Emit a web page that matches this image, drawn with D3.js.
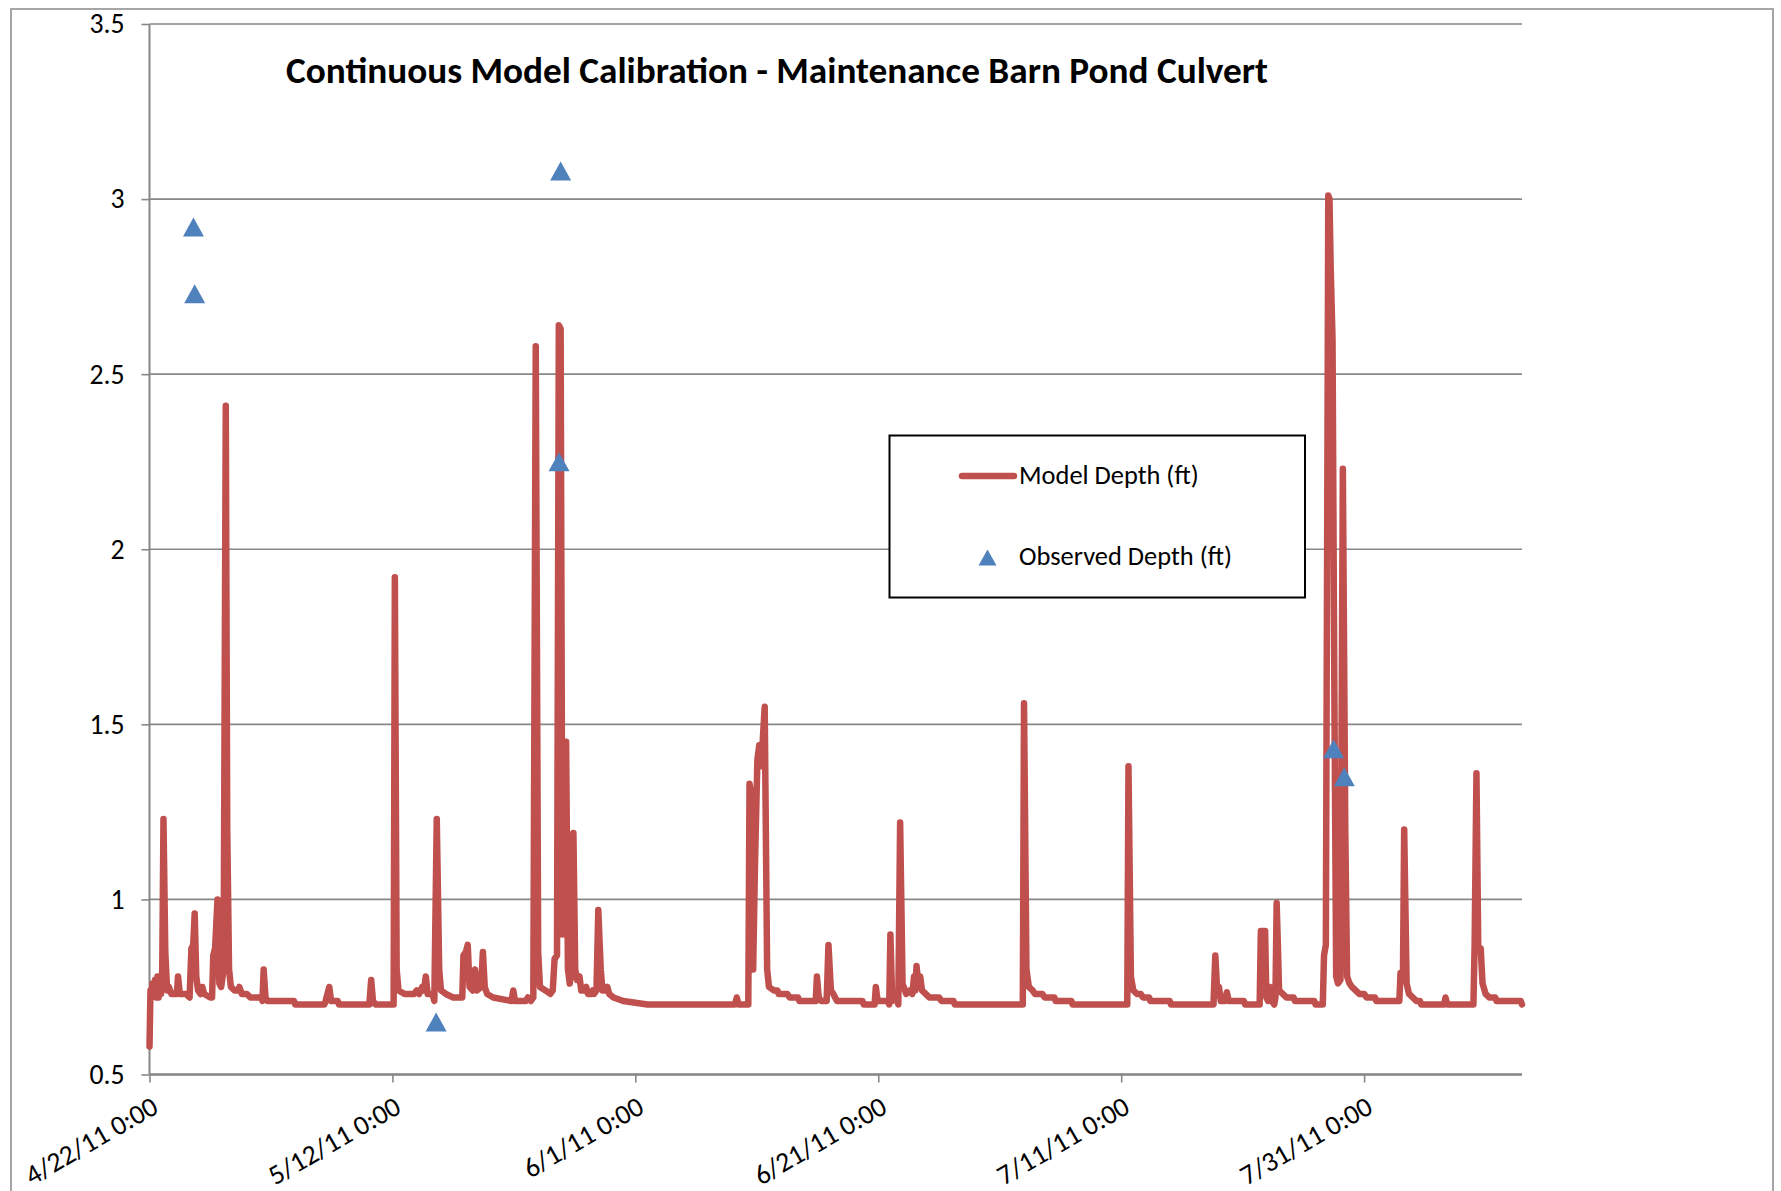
<!DOCTYPE html>
<html>
<head>
<meta charset="utf-8">
<script src="https://cdn.jsdelivr.net/npm/d3@7"></script>
<style>
  html, body { margin: 0; padding: 0; background: #ffffff; }
  svg { display: block; }
  text { font-family: Carlito, Calibri, Lato, "Open Sans", sans-serif; fill: #000; }
</style>
</head>
<body>
<svg id="chart" width="1781" height="1191"></svg>
<script>
// ---- data ---------------------------------------------------------------
// Start of the record; all times below are days after this instant.
const startDate = "2011-04-22T00:00:00Z";

// Modelled depth (ft): [days after start, depth]
const modelSeries = [
  [0.00,0.58],[0.08,0.74],[0.15,0.72],[0.25,0.76],[0.35,0.73],[0.45,0.77],[0.55,0.72],
  [0.65,0.78],[0.75,0.72],[0.85,0.78],[0.95,0.73],[1.05,0.80],[1.15,1.23],[1.30,0.85],
  [1.45,0.74],[1.60,0.75],[1.80,0.73],[2.25,0.73],[2.35,0.78],[2.50,0.73],[3.00,0.73],
  [3.30,0.72],[3.45,0.86],[3.60,0.87],[3.72,0.96],[3.85,0.78],[4.00,0.74],[4.20,0.73],
  [4.35,0.75],[4.50,0.73],[5.00,0.72],[5.15,0.72],[5.25,0.84],[5.40,0.86],[5.60,1.00],
  [5.75,0.76],[5.90,0.75],[6.10,0.80],[6.28,2.41],[6.40,1.20],[6.55,0.80],[6.70,0.75],
  [7.00,0.74],[7.30,0.74],[7.40,0.75],[7.60,0.73],[8.00,0.73],[8.30,0.72],[9.20,0.72],
  [9.30,0.71],[9.40,0.80],[9.55,0.72],[9.70,0.71],[11.9,0.71],[12.0,0.70],[14.4,0.70],
  [14.5,0.71],[14.8,0.75],[14.95,0.71],[15.5,0.71],[15.6,0.70],[18.1,0.70],[18.25,0.77],
  [18.4,0.71],[18.6,0.70],[20.1,0.70],[20.2,1.92],[20.35,0.80],[20.5,0.74],[21.0,0.73],
  [21.8,0.73],[22.0,0.74],[22.2,0.73],[22.45,0.75],[22.6,0.74],[22.75,0.78],[22.9,0.73],
  [23.3,0.73],[23.45,0.71],[23.65,1.23],[23.85,0.80],[24.0,0.74],[24.4,0.73],[25.0,0.72],
  [25.75,0.72],[25.85,0.84],[26.05,0.85],[26.2,0.87],[26.35,0.75],[26.6,0.74],[26.8,0.80],
  [26.95,0.74],[27.3,0.75],[27.45,0.85],[27.6,0.75],[27.8,0.73],[28.3,0.72],[29.8,0.71],
  [29.95,0.74],[30.1,0.71],[31.0,0.71],[31.15,0.72],[31.4,0.71],[31.6,0.72],[31.8,2.58],
  [32.0,0.85],[32.15,0.75],[32.6,0.74],[33.0,0.73],[33.2,0.74],[33.35,0.83],[33.55,0.84],
  [33.7,2.64],[33.85,2.63],[34.0,0.90],[34.15,1.30],[34.3,1.45],[34.45,0.80],[34.6,0.76],
  [34.75,0.80],[34.9,1.19],[35.05,0.80],[35.2,0.77],[35.4,0.78],[35.55,0.74],[35.8,0.74],
  [35.95,0.75],[36.1,0.73],[36.4,0.73],[36.5,0.74],[36.6,0.73],[36.8,0.74],[36.95,0.97],
  [37.15,0.80],[37.3,0.74],[37.6,0.74],[37.7,0.75],[37.85,0.73],[38.2,0.72],[39.0,0.71],
  [41.0,0.70],[48.2,0.70],[48.35,0.72],[48.5,0.70],[49.3,0.70],[49.4,1.33],[49.55,1.30],
  [49.7,0.80],[49.85,1.10],[50.05,1.40],[50.2,1.44],[50.35,1.38],[50.5,1.46],[50.65,1.55],
  [50.85,0.80],[51.0,0.75],[51.4,0.74],[51.7,0.74],[51.8,0.73],[52.5,0.73],[52.7,0.72],
  [53.4,0.72],[53.5,0.71],[54.85,0.71],[54.95,0.78],[55.1,0.72],[55.3,0.71],[55.75,0.71],
  [55.9,0.87],[56.1,0.74],[56.3,0.73],[56.6,0.71],[58.7,0.71],[58.8,0.70],[59.7,0.70],
  [59.8,0.75],[59.95,0.71],[60.8,0.71],[60.9,0.70],[61.0,0.90],[61.15,0.71],[61.5,0.72],
  [61.65,0.70],[61.8,1.22],[62.0,0.76],[62.3,0.73],[62.6,0.74],[62.8,0.73],[62.95,0.78],
  [63.05,0.74],[63.15,0.81],[63.3,0.76],[63.45,0.78],[63.6,0.74],[63.9,0.73],[64.2,0.72],
  [65.0,0.72],[65.2,0.71],[66.2,0.71],[66.3,0.70],[71.9,0.70],[72.0,1.56],[72.2,0.80],
  [72.4,0.75],[72.7,0.74],[72.9,0.73],[73.5,0.73],[73.7,0.72],[74.5,0.72],[74.6,0.71],
  [75.9,0.71],[76.0,0.70],[80.5,0.70],[80.6,1.38],[80.8,0.78],[81.0,0.74],[81.3,0.73],
  [81.6,0.73],[81.8,0.72],[82.3,0.72],[82.4,0.71],[84.0,0.71],[84.1,0.70],[87.6,0.70],
  [87.75,0.84],[87.9,0.74],[88.05,0.75],[88.2,0.71],[88.55,0.71],[88.7,0.735],[88.85,0.71],
  [90.1,0.71],[90.2,0.70],[91.4,0.70],[91.5,0.91],[91.85,0.91],[91.95,0.72],[92.1,0.71],
  [92.25,0.75],[92.4,0.71],[92.6,0.70],[92.7,0.72],[92.8,0.99],[92.9,0.87],[93.0,0.74],
  [93.3,0.73],[93.6,0.72],[94.2,0.72],[94.3,0.71],[95.9,0.71],[96.0,0.70],[96.6,0.70],
  [96.7,0.84],[96.85,0.87],[97.05,3.01],[97.15,3.00],[97.25,2.80],[97.4,2.60],[97.55,1.60],
  [97.7,0.78],[97.85,0.76],[98.05,0.77],[98.25,2.23],[98.45,1.20],[98.6,0.78],[98.8,0.76],
  [99.0,0.75],[99.3,0.74],[99.6,0.73],[100.0,0.73],[100.2,0.72],[100.9,0.72],[101.0,0.71],
  [102.9,0.71],[103.0,0.79],[103.2,0.79],[103.3,1.20],[103.5,0.76],[103.7,0.73],[104.0,0.72],
  [104.3,0.71],[104.6,0.71],[104.7,0.70],[106.6,0.70],[106.7,0.72],[106.85,0.70],[109.0,0.70],
  [109.1,0.87],[109.25,1.36],[109.4,0.86],[109.6,0.86],[109.75,0.76],[110.0,0.73],[110.3,0.72],
  [110.8,0.72],[110.9,0.71],[112.9,0.71],[113.0,0.70]
];

// Field observations (ft): days after start, depth
const observedDays  = [3.62, 3.72, 23.6, 33.85, 33.72, 97.49, 98.37];
const observedDepth = [2.92, 2.73, 0.65, 3.08, 2.25, 1.43, 1.35];

const yTickValues = [0.5, 1, 1.5, 2, 2.5, 3, 3.5];
const xTickDates  = ["2011-04-22", "2011-05-12", "2011-06-01", "2011-06-21", "2011-07-11", "2011-07-31"];
const xDomainDays = [0, 113];
const yDomain     = [0.5, 3.5];

const titleText  = "Continuous Model Calibration - Maintenance Barn Pond Culvert";
const seriesNames = ["Model Depth (ft)", "Observed Depth (ft)"];

// ---- layout -------------------------------------------------------------
const plot = { left: 149.5, right: 1522, top: 24, bottom: 1074.5 };
const lineColor = "#C0504D";
const markerColor = "#4F81BD";
const axisColor = "#878787";
const lineWidth = 6.5;

const t0 = Date.parse(startDate);
const dayToDate = d => new Date(t0 + d * 864e5);

const svg = d3.select("#chart");

// chart-area frame
svg.append("rect")
  .attr("x", 11).attr("y", 9)
  .attr("width", 1762).attr("height", 1240)
  .attr("fill", "#fff").attr("stroke", "#a6a6a6").attr("stroke-width", 2);

const x = d3.scaleUtc()
  .domain(xDomainDays.map(dayToDate))
  .range([plot.left, plot.right]);
const y = d3.scaleLinear()
  .domain(yDomain)
  .range([plot.bottom, plot.top]);

// scale a text's font size so its rendered width hits a target
function fitFontSize(textSel, targetWidth, baseSize) {
  textSel.style("font-size", baseSize + "px");
  const w = textSel.node().getComputedTextLength();
  const size = baseSize * targetWidth / w;
  textSel.style("font-size", size + "px");
  return size;
}

// size the legend text, and derive the tick label size from it
const probe = svg.append("text").text("Observed Depth (ft)");
const legendSize = fitFontSize(probe, 213, 24);
probe.remove();
const tickSize = legendSize * 1.05;

// horizontal gridlines
svg.append("g")
  .attr("class", "grid")
  .selectAll("line")
  .data(yTickValues)
  .join("line")
  .attr("x1", plot.left).attr("x2", plot.right)
  .attr("y1", d => y(d)).attr("y2", d => y(d))
  .attr("stroke", axisColor).attr("stroke-width", 1.6);

// y axis
const yAxis = svg.append("g")
  .attr("transform", `translate(${plot.left},0)`)
  .call(d3.axisLeft(y).tickValues(yTickValues).tickSize(8).tickPadding(17)
    .tickFormat(d3.format("~g")));
yAxis.select(".domain").attr("stroke", axisColor).attr("stroke-width", 2)
  .attr("d", `M0,${plot.top}V${plot.bottom}`);
yAxis.selectAll(".tick line").attr("stroke", axisColor).attr("stroke-width", 1.6);
yAxis.selectAll(".tick text")
  .style("font-size", tickSize + "px")
  .style("font-family", "Carlito, Calibri, Lato, 'Open Sans', sans-serif")
  .attr("fill", "#000");

// x axis
const fmt = d3.utcFormat("%-m/%-d/%y %-H:%M");
const xAxis = svg.append("g")
  .attr("transform", `translate(0,${plot.bottom})`)
  .call(d3.axisBottom(x)
    .tickValues(xTickDates.map(s => new Date(s + "T00:00:00Z")))
    .tickSize(8).tickFormat(fmt));
xAxis.select(".domain").attr("stroke", axisColor).attr("stroke-width", 2.4)
  .attr("d", `M${plot.left},0H${plot.right}`);
xAxis.selectAll(".tick line").attr("stroke", axisColor).attr("stroke-width", 1.6);
xAxis.selectAll(".tick text")
  .style("font-size", tickSize + "px")
  .style("font-family", "Carlito, Calibri, Lato, 'Open Sans', sans-serif")
  .attr("fill", "#000")
  .attr("text-anchor", "end")
  .attr("x", 0).attr("y", 0).attr("dy", "0.35em")
  .attr("transform", "translate(5,29) rotate(-30)");

// modelled depth line
const line = d3.line()
  .x(d => x(dayToDate(d[0])))
  .y(d => y(d[1]));
svg.append("path")
  .datum(modelSeries)
  .attr("d", line)
  .attr("fill", "none")
  .attr("stroke", lineColor)
  .attr("stroke-width", lineWidth)
  .attr("stroke-linejoin", "round")
  .attr("stroke-linecap", "round");

// observed depth markers (triangles centred on the value)
const tri = (w, h) => `M0,${-h / 2}L${w / 2},${h / 2}L${-w / 2},${h / 2}Z`;
svg.append("g")
  .selectAll("path")
  .data(observedDays.map((d, i) => [d, observedDepth[i]]))
  .join("path")
  .attr("transform", d => `translate(${x(dayToDate(d[0]))},${y(d[1])})`)
  .attr("d", tri(21, 19))
  .attr("fill", markerColor);

// legend
const lg = svg.append("g");
lg.append("rect")
  .attr("x", 889.5).attr("y", 435.5)
  .attr("width", 415.5).attr("height", 162)
  .attr("fill", "#fff").attr("stroke", "#000").attr("stroke-width", 2);
lg.append("line")
  .attr("x1", 962).attr("x2", 1014).attr("y1", 476).attr("y2", 476)
  .attr("stroke", lineColor).attr("stroke-width", lineWidth).attr("stroke-linecap", "round");
lg.append("text")
  .attr("x", 1019).attr("y", 484)
  .style("font-size", legendSize + "px")
  .text(seriesNames[0]);
lg.append("path")
  .attr("transform", "translate(987.5,557.5)")
  .attr("d", tri(18, 16))
  .attr("fill", markerColor);
lg.append("text")
  .attr("x", 1019).attr("y", 565)
  .style("font-size", legendSize + "px")
  .text(seriesNames[1]);

// title
const title = svg.append("text")
  .attr("x", 286).attr("y", 83)
  .style("font-weight", "bold")
  .text(titleText);
fitFontSize(title, 982, 34);
</script>
</body>
</html>
